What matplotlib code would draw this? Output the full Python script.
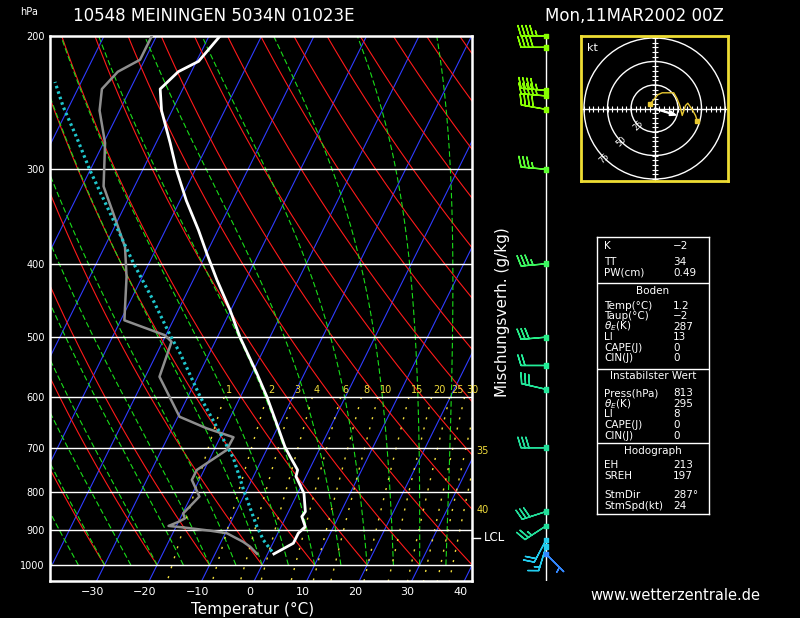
import numpy as np
import matplotlib
matplotlib.use('Agg')
import matplotlib.pyplot as plt
from matplotlib.ticker import NullLocator
from matplotlib.transforms import blended_transform_factory

# sounding data
p_temp = [967, 936, 908, 890, 863, 850, 804, 764, 749, 719, 698, 650, 599, 558, 500,
          460, 420, 387, 361, 330, 301, 277, 251, 235, 223, 216, 200]
t_temp = [1.2, 3.9, 3.9, 4.6, 3.0, 3.2, 1.2, -1.9, -2.2, -4.9, -6.8, -10.6, -15.0, -19.1, -25.7,
          -30.2, -35.5, -40.0, -43.7, -48.8, -53.5, -57.3, -62.0, -64.3, -62.5, -59.6, -57.9]

p_dew = [967, 946, 932, 908, 901, 892, 888, 877, 868, 855, 812, 772, 749, 705, 678, 660, 637,
         564, 507, 497, 475, 460, 416, 380, 347, 316, 277, 251, 235, 223, 215, 200]
t_dew = [-2.0, -4.0, -5.8, -9.7, -13.1, -18.6, -21.5, -20.0, -19.1, -19.9, -18.4, -21.4, -21.4,
         -17.6, -17.5, -23.4, -29.7, -37.3, -38.3, -40.2, -49.3, -50.2, -53.0, -56.1, -60.9,
         -65.9, -69.7, -73.8, -75.4, -74.0, -70.9, -70.9]

p_parcel = [960, 927, 890, 796, 723, 670, 599, 525, 497, 447, 399, 343, 301, 272, 248, 230]
t_parcel = [0.6, -2.1, -4.6, -10.6, -15.5, -20.4, -27.7, -35.6, -39.2, -45.7, -53.0, -62.1,
            -70.0, -75.7, -81.1, -85.0]
p_lcl = 921

# winds: pressure, direction (deg), speed (kt)
wind_p = [200, 207, 236, 240, 250, 300, 400, 500, 545, 586, 700, 850, 888, 927, 946, 967]
wind_dir = [270, 270, 275, 275, 280, 275, 265, 265, 270, 283, 270, 252, 237, 208, 197, 135]
wind_spd = [45, 40, 45, 45, 40, 35, 35, 30, 20, 30, 30, 30, 25, 20, 15, 5]

# hodograph trace (kt)
hodo_u = [-5.0, 3.5, 8.2, 20.5, 24.1, 26.9, 29.5, 33.0, 35.4, 40.1, 43.6, 45.4]
hodo_v = [4.3, 14.6, 16.7, 16.7, 10.3, 3.2, -7.4, 3.2, 5.6, -1.1, -7.4, -12.8]
hodo_rings = [25, 50, 75]
storm_dir = 287
storm_spd = 24

mix_ratios = [1, 2, 3, 4, 6, 8, 10, 15, 20, 25, 30]
mix_edge = {35: 707, 40: 846}
p_levels = [200, 300, 400, 500, 600, 700, 800, 900, 1000]
t_ticks = [-30, -20, -10, 0, 10, 20, 30, 40]

info = [
    (None, [('K', '\u22122'), ('TT', '34'), ('PW(cm)', '0.49')]),
    ('Boden', [('Temp(\u00b0C)', '1.2'), ('Taup(\u00b0C)', '\u22122'), (r'$\theta_E$(K)', '287'),
               ('LI', '13'), ('CAPE(J)', '0'), ('CIN(J)', '0')]),
    ('Instabilster Wert', [('Press(hPa)', '813'), (r'$\theta_E$(K)', '295'), ('LI', '8'),
                           ('CAPE(J)', '0'), ('CIN(J)', '0')]),
    ('Hodograph', [('EH', '213'), ('SREH', '197'), ('StmDir', '287\u00b0'), ('StmSpd(kt)', '24')]),
]

SKEW = 31.0
OFF = 2.29
P_BOT = 1050.0
W, H = 800, 618
BLUE = '#2f3cff'
RED = '#ff1a1a'
GREEN = '#19dd19'
YEL = '#f0dc3c'


def skew(t, p):
    return np.asarray(t) + SKEW * np.log(1000.0 / np.asarray(p)) + OFF


def frect(x0, y0, x1, y1):
    return [x0 / W, 1 - y1 / H, (x1 - x0) / W, (y1 - y0) / H]


def dtdp(T, p):
    es = 6.112 * np.exp(17.67 * (T - 273.15) / (T - 29.65))
    rs = 0.622 * es / (p - es)
    return (287.04 * T + 2.501e6 * rs) / (p * (1005.7 + 2.501e6 ** 2 * rs * 0.622 / (287.04 * T * T)))


def moist(tw, plev):
    T = tw + 273.15
    out = [T]
    for p0, p1 in zip(plev[:-1], plev[1:]):
        dp = p1 - p0
        k1 = dtdp(T, p0)
        k2 = dtdp(T + 0.5 * dp * k1, p0 + 0.5 * dp)
        k3 = dtdp(T + 0.5 * dp * k2, p0 + 0.5 * dp)
        k4 = dtdp(T + dp * k3, p1)
        T = T + dp * (k1 + 2 * k2 + 2 * k3 + k4) / 6
        out.append(T)
    return np.array(out) - 273.15


def mix_td(w, p):
    e = w * p / (622.0 + w)
    a = np.log(e / 6.112)
    return 243.5 * a / (17.67 - a)


fig = plt.figure(figsize=(8, 6.18), dpi=100, facecolor='black')

ax = fig.add_axes(frect(50, 36, 471.7, 581), facecolor='black')
ax.set_yscale('log')
ax.set_ylim(P_BOT, 200)
ax.set_xlim(-38.1, 42.2)

p_all = np.exp(np.linspace(np.log(P_BOT), np.log(200), 120))
p_up = np.exp(np.linspace(np.log(1000), np.log(200), 160))

for t in range(-120, 50, 10):
    ax.plot(skew(t, p_all), p_all, color=BLUE, lw=0.8)
for th in range(-40, 190, 10):
    tt = (th + 273.15) * (p_up / 1000.0) ** 0.2857 - 273.15
    ax.plot(skew(tt, p_up), p_up, color=RED, lw=0.8)
for tw in range(-40, 40, 5):
    ax.plot(skew(moist(tw, p_up), p_up), p_up, color=GREEN, lw=0.8, ls=(0, (5, 2.5)))

p_mix = np.exp(np.linspace(np.log(600), np.log(P_BOT), 60))
for w in mix_ratios + list(mix_edge):
    ax.plot(skew(mix_td(w, p_mix), p_mix), p_mix, color=YEL, lw=1.0, ls=(0, (1.5, 6)))
for w in mix_ratios:
    ax.text(skew(mix_td(w, 600), 600) + 0.3, 587, str(w), color=YEL, fontsize=7,
            ha='left', va='center')
blend = blended_transform_factory(ax.transAxes, ax.transData)
for w, pe in mix_edge.items():
    ax.text(1.012, pe, str(w), color=YEL, fontsize=7, ha='left', va='center', transform=blend)

for p in p_levels[1:]:
    ax.axhline(p, color='white', lw=1.0)

ax.plot(skew(t_dew, p_dew), p_dew, color='#8e8e8e', lw=1.8, zorder=5)
ax.plot(skew(t_parcel, p_parcel), p_parcel, color='#1fc6cc', lw=2.3, ls=(0, (0.8, 1.0)), zorder=5)
ax.plot(skew(t_temp, p_temp), p_temp, color='white', lw=2.0, zorder=6)

ax.plot([1.0, 1.02], [p_lcl, p_lcl], color='white', lw=1, transform=blend, clip_on=False)
ax.text(1.03, p_lcl, 'LCL', color='white', fontsize=8.5, va='center', ha='left', transform=blend)

ax.set_yticks(p_levels)
ax.set_yticklabels([str(p) for p in p_levels])
ax.yaxis.set_minor_locator(NullLocator())
ax.set_xticks(t_ticks)
ax.set_xticklabels(['\u2212%d' % -t if t < 0 else str(t) for t in t_ticks])
ax.tick_params(axis='y', length=0, colors='white', labelsize=7, pad=4)
ax.tick_params(axis='x', length=0, colors='white', labelsize=8, pad=4)
for s in ax.spines.values():
    s.set_color('white')
    s.set_linewidth(1.8)

# wind column
wax = fig.add_axes(frect(480, 36, 600, 581))
wax.patch.set_alpha(0)
wax.set_yscale('log')
wax.set_ylim(P_BOT, 200)
wax.set_xlim(480, 600)
wax.axis('off')
wax.axvline(546, color='white', lw=1)
wcol = ['#88ff00', '#88ff00', '#88ff00', '#88ff00', '#88ff00', '#5cff30', '#3cf560', '#26ee88',
        '#22ee99', '#22e69a', '#22dd99', '#22dd99', '#22dd99', '#22ccee', '#22ccee', '#3388ff']
rad = np.deg2rad(wind_dir)
wu = -np.array(wind_spd) * np.sin(rad)
wv = -np.array(wind_spd) * np.cos(rad)
wx = np.full(len(wind_p), 546.0)
wax.barbs(wx, wind_p, wu, wv, barbcolor=wcol, flagcolor=wcol, length=6, linewidth=1.0,
          sizes=dict(spacing=0.16, height=0.42), clip_on=False)
wax.scatter(wx, wind_p, marker='s', s=12, c=wcol, zorder=4, clip_on=False)

# hodograph
hax = fig.add_axes(frect(581, 36, 728, 181), facecolor='black')
hax.set_xlim(-78.2, 78.2)
hax.set_ylim(-77.1, 77.1)
hax.set_xticks([])
hax.set_yticks([])
for s in hax.spines.values():
    s.set_color('#eedd33')
    s.set_linewidth(2)
for r in hodo_rings:
    hax.add_patch(plt.Circle((0, 0), r, fill=False, color='white', lw=1))
    a = np.deg2rad(225)
    hax.text(r * np.cos(a), r * np.sin(a), str(r), color='white', fontsize=6, rotation=45,
             ha='center', va='center')
hax.axhline(0, color='white', lw=1)
hax.axvline(0, color='white', lw=1)
tk = np.arange(-75, 80, 5)
hax.plot(tk, np.zeros_like(tk), ls='none', marker='|', ms=4, mew=0.8, color='white')
hax.plot(np.zeros_like(tk), tk, ls='none', marker='_', ms=4, mew=0.8, color='white')
hax.plot(hodo_u, hodo_v, color='#e8c830', lw=1)
hax.plot([hodo_u[0], hodo_u[-1]], [hodo_v[0], hodo_v[-1]], ls='none', marker='s', ms=3.5,
         color='#e8c830')
sr = np.deg2rad(storm_dir + 180)
hax.arrow(0, 0, storm_spd * np.sin(sr), storm_spd * np.cos(sr), width=1.0, head_width=5,
          head_length=7, length_includes_head=True, color='white')
hax.text(-72, 70, 'kt', color='white', fontsize=8, ha='left', va='top')

# info table
tax = fig.add_axes(frect(596.7, 236.7, 709.3, 514))
tax.set_xlim(596.7, 709.3)
tax.set_ylim(514, 236.7)
tax.set_xticks([])
tax.set_yticks([])
tax.set_facecolor('black')
for s in tax.spines.values():
    s.set_color('white')
    s.set_linewidth(1)
row_y = [[246, 262.3, 272.7],
         [306, 316.3, 326.7, 337.3, 347.7, 358.3],
         [393.3, 404, 414.3, 425, 435.7],
         [465, 476, 495, 505.7]]
head_y = [None, 291, 376, 451]
sep_y = [283.3, 369.5, 443.3]
for y in sep_y:
    tax.axhline(y, color='white', lw=1)
for (head, rows), ys, hy in zip(info, row_y, head_y):
    if head:
        tax.text(653, hy, head, color='white', fontsize=7.5, ha='center', va='center')
    for (lab, val), y in zip(rows, ys):
        tax.text(604, y, lab, color='white', fontsize=7.5, ha='left', va='center')
        tax.text(673.3, y, val, color='white', fontsize=7.5, ha='left', va='center')

fig.text(20 / W, 1 - 12 / H, 'hPa', color='white', fontsize=7, ha='left', va='center')
fig.text(73 / W, 1 - 16 / H, '10548 MEININGEN 5034N 01023E', color='white', fontsize=12,
         ha='left', va='center')
fig.text(545 / W, 1 - 16 / H, 'Mon,11MAR2002 00Z', color='white', fontsize=12,
         ha='left', va='center')
fig.text(253 / W, 1 - 609 / H, 'Temperatur (\u00b0C)', color='white', fontsize=11,
         ha='center', va='center')
fig.text(503 / W, 1 - 312 / H, 'Mischungsverh. (g/kg)', color='white', fontsize=11,
         rotation=90, ha='center', va='center')
fig.text(675 / W, 1 - 596 / H, 'www.wetterzentrale.de', color='white', fontsize=10.5,
         ha='center', va='center')

fig.savefig('out.png', dpi=100, facecolor='black')
